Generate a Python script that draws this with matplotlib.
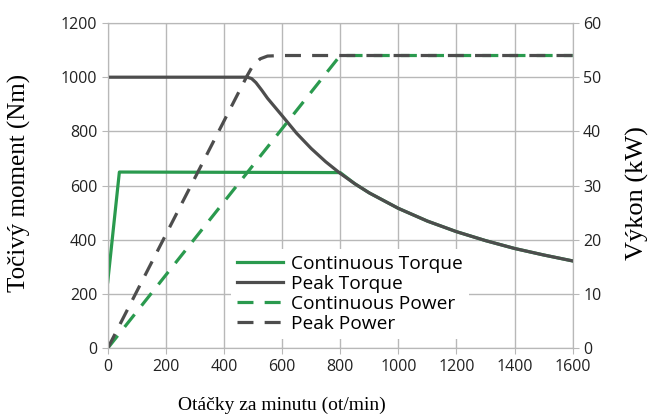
import matplotlib
matplotlib.use("Agg")
import matplotlib.pyplot as plt

# Data
rpm_cont_torque = [0, 40, 800, 850, 900, 1000, 1100, 1200, 1300, 1400, 1500, 1600]
cont_torque = [245, 650, 648, 607, 573, 516, 469, 430, 397, 368, 344, 322]

rpm_peak_torque = [0, 480, 495, 510, 530, 550, 575, 600, 650, 700, 750, 800, 850, 900, 1000,
                   1100, 1200, 1300, 1400, 1500, 1600]
peak_torque = [1000, 1000, 995, 980, 952, 922, 890, 858, 793, 737, 688, 645, 607, 573, 516,
               469, 430, 397, 368, 344, 322]

rpm_cont_power = [0, 800, 1600]
cont_power = [0, 54, 54]

rpm_peak_power = [0, 480, 500, 525, 550, 600, 1600]
peak_power = [0, 50.3, 52.2, 53.4, 53.9, 54, 54]

x_ticks = [0, 200, 400, 600, 800, 1000, 1200, 1400, 1600]
y_left_ticks = [0, 200, 400, 600, 800, 1000, 1200]
y_right_ticks = [0, 10, 20, 30, 40, 50, 60]

green = "#2a9a4e"
gray = "#4d4d4d"
grid_c = "#b8b8b8"

fig = plt.figure(figsize=(6.53, 4.18), dpi=100)
ax = fig.add_axes([0.165, 0.167, 0.712, 0.778])
ax2 = ax.twinx()

l1, = ax.plot(rpm_cont_torque, cont_torque, color=green, lw=2.3, label="Continuous Torque", zorder=3)
l2, = ax.plot(rpm_peak_torque, peak_torque, color=gray, lw=2.3, label="Peak Torque", zorder=4)
l3, = ax2.plot(rpm_cont_power, cont_power, color=green, lw=2.3, ls=(0, (5, 3.5)), label="Continuous Power")
l4, = ax2.plot(rpm_peak_power, peak_power, color=gray, lw=2.3, ls=(0, (5, 3.5)), label="Peak Power")

ax.set_xlim(0, 1600)
ax.set_ylim(0, 1200)
ax2.set_ylim(0, 60)
ax.set_xticks(x_ticks)
ax.set_yticks(y_left_ticks)
ax2.set_yticks(y_right_ticks)

ax.grid(True, color=grid_c, lw=1)
ax.set_axisbelow(True)
for a in (ax, ax2):
    for s in a.spines.values():
        s.set_color(grid_c)
    a.tick_params(colors="#222222", labelsize=11.5, length=4, color=grid_c)

for lab in ax.get_xticklabels() + ax.get_yticklabels() + ax2.get_yticklabels():
    lab.set_family("Open Sans")

ax.set_xlabel("Otáčky za minutu (ot/min)", family="Liberation Serif", fontsize=14)
ax.set_ylabel("Točivý moment (Nm)", family="Liberation Serif", fontsize=18)
ax2.set_ylabel("Výkon (kW)", family="Liberation Serif", fontsize=19, rotation=90)
ax.xaxis.set_label_coords(0.374, -0.175)
ax.yaxis.set_label_coords(-0.189, 0.508)
ax2.yaxis.set_label_coords(1.140, 0.477)
for lab in (ax.xaxis.label, ax.yaxis.label, ax2.yaxis.label):
    lab.set_va("center")
    lab.set_ha("center")

leg = ax2.legend(handles=[l1, l2, l3, l4], loc="lower left", bbox_to_anchor=(0.245, 0.0),
                 frameon=True, facecolor="white", edgecolor="white", framealpha=1,
                 prop={"family": "Open Sans", "size": 13.8}, handlelength=2.4,
                 handletextpad=0.42, labelspacing=0.1, borderpad=0.3)
leg.get_frame().set_linewidth(0)

fig.savefig("out.png", dpi=100)
